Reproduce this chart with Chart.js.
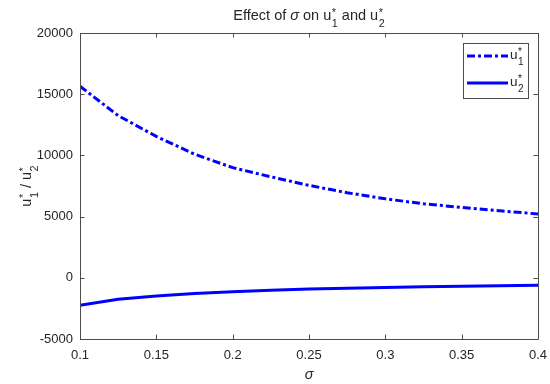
<!DOCTYPE html>
<html>
<head>
<meta charset="utf-8">
<script src="https://cdn.jsdelivr.net/npm/chart.js@4.4.1/dist/chart.umd.min.js"></script>
<style>
  html, body { margin: 0; padding: 0; background: #fff; }
  #wrap { width: 550px; height: 384px; }
</style>
</head>
<body>
<div id="wrap"><canvas id="c" width="550" height="384"></canvas></div>
<script>
// data
const sigma = [0.1, 0.125, 0.15, 0.175, 0.2, 0.225, 0.25, 0.275, 0.3, 0.325, 0.35, 0.375, 0.4];
const u1 = [15650, 13250, 11550, 10100, 9000, 8250, 7550, 6950, 6450, 6050, 5750, 5480, 5210];
const u2 = [-2250, -1760, -1480, -1280, -1140, -1020, -920, -850, -790, -740, -690, -640, -600];
const xTicks = [0.1, 0.15, 0.2, 0.25, 0.3, 0.35, 0.4];
const yTicks = [-5000, 0, 5000, 10000, 15000, 20000];

const FONT = '"Liberation Sans", Arial, Helvetica, sans-serif';
const INK = '#262626';
const AXIS = '#4d4d4d';
const BLUE = '#0000ff';

// draws (or measures) a run of text pieces: plain strings, {it: '...'} or {u: '1'} (u_1^*)
function rich(ctx, parts, x, y, size, draw) {
  let cx = x;
  for (const p of parts) {
    if (typeof p === 'string') {
      ctx.font = size + 'px ' + FONT;
      if (draw) ctx.fillText(p, cx, y);
      cx += ctx.measureText(p).width;
    } else if (p.it) {
      ctx.font = 'italic ' + size + 'px ' + FONT;
      if (draw) ctx.fillText(p.it, cx, y);
      cx += ctx.measureText(p.it).width;
    } else if (p.u) {
      ctx.font = size + 'px ' + FONT;
      if (draw) ctx.fillText('u', cx, y);
      cx += ctx.measureText('u').width + 0.5;
      const s = size * 0.75;
      ctx.font = s + 'px ' + FONT;
      if (draw) {
        ctx.fillText(p.u, cx, y + size * 0.45);
        ctx.fillText('*', cx, y - size * 0.3);
      }
      cx += Math.max(ctx.measureText(p.u).width, ctx.measureText('*').width);
    }
  }
  return cx - x;
}

const decor = {
  id: 'decor',
  afterDraw(chart) {
    const ctx = chart.ctx;
    const a = chart.chartArea;
    const xs = chart.scales.x, ys = chart.scales.y;
    ctx.save();
    // box + inward ticks
    ctx.strokeStyle = AXIS;
    ctx.lineWidth = 1;
    ctx.beginPath();
    ctx.rect(a.left + 0.5, a.top + 0.5, a.right - a.left, a.bottom - a.top);
    const tl = 4.5;
    xTicks.forEach(v => {
      const px = Math.round(xs.getPixelForValue(v)) + 0.5;
      ctx.moveTo(px, a.bottom); ctx.lineTo(px, a.bottom - tl);
      ctx.moveTo(px, a.top); ctx.lineTo(px, a.top + tl);
    });
    yTicks.forEach(v => {
      const py = Math.round(ys.getPixelForValue(v)) + 0.5;
      ctx.moveTo(a.left, py); ctx.lineTo(a.left + tl, py);
      ctx.moveTo(a.right, py); ctx.lineTo(a.right - tl, py);
    });
    ctx.stroke();

    ctx.fillStyle = INK;
    ctx.textAlign = 'left';
    ctx.textBaseline = 'alphabetic';

    // title
    const title = ['Effect of ', {it: '\u03c3'}, ' on ', {u: '1'}, ' and ', {u: '2'}];
    const tw = rich(ctx, title, 0, 0, 14.5, false);
    rich(ctx, title, (a.left + a.right) / 2 - tw / 2, 20, 14.5, true);

    // x label
    ctx.font = 'italic 14.5px ' + FONT;
    ctx.textAlign = 'center';
    ctx.fillText('\u03c3', (a.left + a.right) / 2, 379);
    ctx.textAlign = 'left';

    // y label
    const yl = [{u: '1'}, ' / ', {u: '2'}];
    const yw = rich(ctx, yl, 0, 0, 14.5, false);
    ctx.save();
    ctx.translate(31, (a.top + a.bottom) / 2);
    ctx.rotate(-Math.PI / 2);
    rich(ctx, yl, -yw / 2, 0, 14.5, true);
    ctx.restore();

    // legend
    ctx.fillStyle = '#fff';
    ctx.fillRect(463, 43, 65, 55);
    ctx.strokeStyle = AXIS;
    ctx.lineWidth = 1;
    ctx.strokeRect(463.5, 43.5, 65, 55);
    ctx.strokeStyle = BLUE;
    ctx.lineWidth = 3;
    ctx.setLineDash([8, 3, 3, 3]);
    ctx.beginPath(); ctx.moveTo(467, 56); ctx.lineTo(508, 56); ctx.stroke();
    ctx.setLineDash([]);
    ctx.beginPath(); ctx.moveTo(467, 83); ctx.lineTo(508, 83); ctx.stroke();
    ctx.fillStyle = INK;
    rich(ctx, [{u: '1'}], 510, 59, 13.5, true);
    rich(ctx, [{u: '2'}], 510, 86, 13.5, true);
    ctx.restore();
  }
};

new Chart(document.getElementById('c'), {
  type: 'line',
  data: {
    datasets: [
      {
        label: 'u1*',
        data: sigma.map((s, i) => ({x: s, y: u1[i]})),
        borderColor: BLUE,
        borderWidth: 3,
        borderDash: [8, 3, 3, 3],
        pointRadius: 0,
        tension: 0,
        fill: false
      },
      {
        label: 'u2*',
        data: sigma.map((s, i) => ({x: s, y: u2[i]})),
        borderColor: BLUE,
        borderWidth: 3,
        pointRadius: 0,
        tension: 0,
        fill: false
      }
    ]
  },
  options: {
    responsive: false,
    animation: false,
    events: [],
    layout: { padding: { top: 33, right: 12, bottom: 0, left: 0 } },
    plugins: { legend: { display: false }, title: { display: false }, tooltip: { enabled: false } },
    scales: {
      x: {
        type: 'linear',
        min: 0.1, max: 0.4,
        afterBuildTicks: s => { s.ticks = xTicks.map(v => ({value: v})); },
        afterFit: s => { s.height = 45; s.paddingLeft = 0; s.paddingRight = 0; },
        grid: { display: false, drawTicks: false },
        border: { display: false },
        ticks: {
          padding: 9,
          color: INK,
          font: { family: FONT, size: 13 },
          maxRotation: 0,
          callback: v => String(+v.toFixed(3))
        }
      },
      y: {
        min: -5000, max: 20000,
        afterBuildTicks: s => { s.ticks = yTicks.map(v => ({value: v})); },
        afterFit: s => { s.width = 80; s.paddingTop = 0; s.paddingBottom = 0; },
        grid: { display: false, drawTicks: false },
        border: { display: false },
        ticks: {
          padding: 7,
          color: INK,
          font: { family: FONT, size: 13 },
          callback: v => String(v)
        }
      }
    }
  },
  plugins: [decor]
});
</script>
</body>
</html>
